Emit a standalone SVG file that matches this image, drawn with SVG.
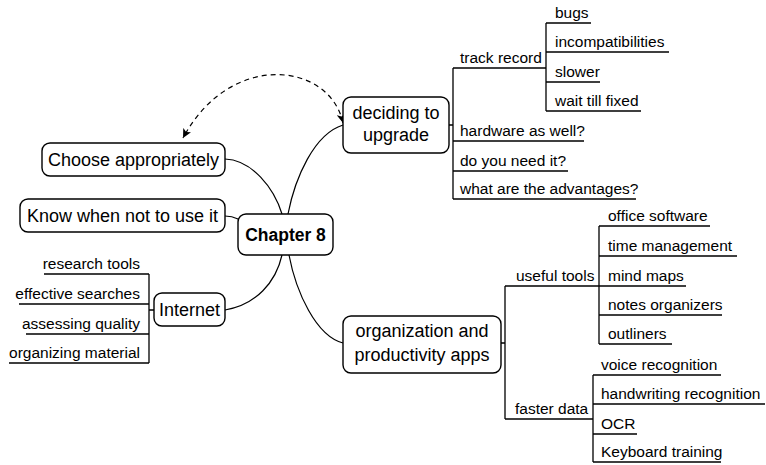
<svg xmlns="http://www.w3.org/2000/svg" width="766" height="465" viewBox="0 0 766 465">
<style>
  .box { fill: #ffffff; stroke: #000000; stroke-width: 1.4; }
  .main { font-family: "Liberation Sans", Arial, sans-serif; font-size: 18px; fill: #000000; }
  .center { font-family: "Liberation Sans", Arial, sans-serif; font-size: 17.5px; font-weight: bold; fill: #000000; }
  .sub { font-family: "Liberation Sans", Arial, sans-serif; font-size: 15.5px; fill: #000000; }
  .ln { fill: none; stroke: #000000; stroke-width: 1.3; }
  .curve { fill: none; stroke: #000000; stroke-width: 1.2; }
  .dash { fill: none; stroke: #000000; stroke-width: 1.2; stroke-dasharray: 5 4; }
</style>
<defs>
  <marker id="arr" viewBox="0 0 10 10" refX="10" refY="5" markerWidth="9" markerHeight="9" orient="auto-start-reverse" markerUnits="userSpaceOnUse">
    <path d="M0,0 L10,5 L0,10 L2.5,5 Z" fill="#000000"/>
  </marker>
</defs>

<g id="connectors">
  <path class="curve" d="M225,159 C252,160 274,188 282,214"/>
  <path class="curve" d="M343,125 C314,134 295,178 288,214"/>
  <path class="curve" d="M225,216 C230,216 234,217 238,219"/>
  <path class="curve" d="M225,310 C256,305 276,282 282,255"/>
  <path class="curve" d="M289,255 C296,292 316,336 343,343"/>
  <path class="dash" d="M343,123 C330,62 230,50 183,138" marker-start="url(#arr)" marker-end="url(#arr)"/>
  <!-- deciding to upgrade branches -->
  <path class="ln" d="M449,125 H453 M453,68 V199 M453,68 H546 M546,23 V111 M546,23 H591 M546,52 H669 M546,82 H600 M546,111 H641 M453,141 H584 M453,171 H568 M453,199 H636"/>
  <!-- Internet branches -->
  <path class="ln" d="M154,310 H149 M149,274 V363 M44,274 H149 M19,304 H149 M26,334 H149 M9,363 H149"/>
  <!-- organization branches -->
  <path class="ln" d="M501,343 H505 M505,286 V419 M505,286 H599 M599,226 V344 M599,226 H710 M599,256 H737 M599,286 H686 M599,315 H722 M599,344 H672 M505,419 H593 M593,375 V462 M593,375 H721 M593,404 H765 M593,434 H637 M593,462 H721"/>
</g>

<g id="chapter8">
  <rect class="box" x="238" y="214" width="95" height="41" rx="8"/>
  <text class="center" x="285.5" y="241" text-anchor="middle">Chapter 8</text>
</g>

<g id="choose">
  <rect class="box" x="42" y="143" width="183" height="33" rx="8"/>
  <text class="main" x="133.5" y="166" text-anchor="middle">Choose appropriately</text>
</g>

<g id="know">
  <rect class="box" x="20" y="199" width="205" height="33" rx="8"/>
  <text class="main" x="122.5" y="222" text-anchor="middle">Know when not to use it</text>
</g>

<g id="internet">
  <rect class="box" x="154" y="293" width="71" height="33" rx="8"/>
  <text class="main" x="189.5" y="316" text-anchor="middle">Internet</text>
  <text class="sub" x="140" y="269" text-anchor="end">research tools</text>
  <text class="sub" x="140" y="299" text-anchor="end">effective searches</text>
  <text class="sub" x="140" y="329" text-anchor="end">assessing quality</text>
  <text class="sub" x="140" y="358" text-anchor="end">organizing material</text>
</g>

<g id="deciding">
  <rect class="box" x="343" y="97" width="106" height="56" rx="8"/>
  <text class="main" x="396" y="119" text-anchor="middle">deciding to</text>
  <text class="main" x="396" y="141" text-anchor="middle">upgrade</text>
  <text class="sub" x="460" y="63">track record</text>
  <text class="sub" x="555" y="18">bugs</text>
  <text class="sub" x="555" y="47">incompatibilities</text>
  <text class="sub" x="555" y="77">slower</text>
  <text class="sub" x="555" y="106">wait till fixed</text>
  <text class="sub" x="460" y="136">hardware as well?</text>
  <text class="sub" x="460" y="166">do you need it?</text>
  <text class="sub" x="460" y="194">what are the advantages?</text>
</g>

<g id="organization">
  <rect class="box" x="343" y="316" width="158" height="57" rx="8"/>
  <text class="main" x="422" y="337" text-anchor="middle">organization and</text>
  <text class="main" x="422" y="361" text-anchor="middle">productivity apps</text>
  <text class="sub" x="516" y="281">useful tools</text>
  <text class="sub" x="608" y="221">office software</text>
  <text class="sub" x="608" y="251">time management</text>
  <text class="sub" x="608" y="281">mind maps</text>
  <text class="sub" x="608" y="310">notes organizers</text>
  <text class="sub" x="608" y="339">outliners</text>
  <text class="sub" x="515" y="414">faster data</text>
  <text class="sub" x="601" y="370">voice recognition</text>
  <text class="sub" x="601" y="399">handwriting recognition</text>
  <text class="sub" x="601" y="429">OCR</text>
  <text class="sub" x="601" y="457">Keyboard training</text>
</g>
</svg>
